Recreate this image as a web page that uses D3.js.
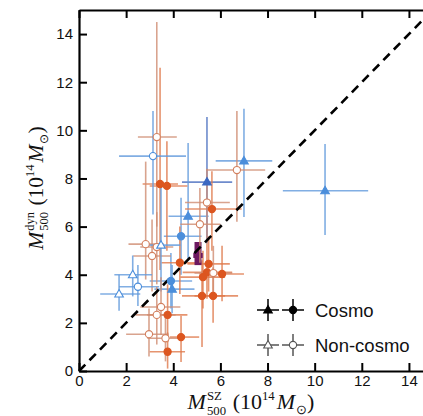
<!DOCTYPE html>
<html>
<head>
<meta charset="utf-8">
<script src="https://cdn.jsdelivr.net/npm/d3@7"></script>
<style>
  html, body { margin: 0; padding: 0; background: #fff; }
  svg { display: block; }
</style>
</head>
<body>
<svg id="chart" width="423" height="416"></svg>
<script>
// SZ mass and dynamical mass (10^14 Msun) with asymmetric error ranges
const massSZ  = [5.43, 7.0, 10.44, 4.63, 4.33, 3.9, 3.95, 3.44, 3.73, 5.64, 4.28, 5.5, 5.43, 6.07, 5.26, 5.22, 5.69, 3.76, 4.33, 3.76, 5.05,
                 3.3, 3.14, 6.7, 5.43, 5.13, 2.83, 3.1, 3.3, 3.48, 1.7, 2.28, 2.5, 3.48, 3.3, 2.97, 3.67, 5.7];
const massDyn = [7.85, 8.73, 7.49, 6.43, 5.6, 3.74, 3.4, 7.77, 7.69, 6.73, 4.5, 4.45, 4.1, 4.03, 3.9, 3.12, 3.12, 2.33, 1.41, 0.8, 4.8,
                 9.72, 8.93, 8.35, 7.0, 6.1, 5.27, 4.78, 5.15, 5.23, 3.2, 4.0, 3.5, 2.66, 2.33, 1.53, 1.36, 4.07];
const szLow   = [4.37, 5.8, 8.65, 3.8, 3.6, 3.0, 3.2, 2.7, 3.0, 4.5, 3.5, 4.6, 4.4, 5.1, 4.3, 4.37, 4.9, 2.9, 3.86, 3.0, 4.85,
                 2.5, 1.7, 5.4, 4.5, 4.3, 2.1, 2.3, 2.6, 2.7, 0.9, 1.5, 1.7, 2.6, 2.4, 2.0, 2.9, 4.9];
const szHigh  = [6.5, 8.2, 12.27, 5.5, 5.2, 4.8, 4.9, 4.2, 4.6, 6.9, 5.2, 6.4, 6.5, 7.0, 6.2, 6.2, 6.75, 4.6, 5.1, 4.5, 5.25,
                 4.15, 4.54, 7.9, 6.4, 6.0, 3.6, 3.9, 4.0, 4.3, 2.6, 3.1, 3.4, 4.3, 4.1, 3.8, 4.4, 6.5];
const dynLow  = [5.3, 6.4, 5.65, 4.6, 4.0, 2.6, 2.4, 4.2, 5.0, 5.0, 3.2, 3.3, 3.0, 2.9, 2.6, 1.0, 2.0, 1.2, 0.37, 0.1, 4.4,
                 6.0, 6.5, 6.2, 5.3, 4.5, 3.8, 3.3, 3.6, 3.3, 2.5, 3.1, 2.7, 1.5, 1.1, 0.6, 0.4, 3.0];
const dynHigh = [10.55, 10.9, 9.43, 9.47, 7.2, 4.9, 4.4, 12.6, 9.55, 8.3, 6.0, 5.6, 5.3, 5.2, 5.0, 4.6, 4.3, 3.6, 2.3, 1.6, 5.36,
                 14.5, 10.8, 10.8, 8.4, 7.6, 8.7, 6.3, 6.6, 7.6, 4.0, 4.8, 4.4, 3.9, 3.5, 2.6, 2.3, 5.2];
// cosmo sample = filled symbols, non-cosmo = open symbols
const sample  = ["c","c","c","c","c","c","c","c","c","c","c","c","c","c","c","c","c","c","c","c","c",
                 "n","n","n","n","n","n","n","n","n","n","n","n","n","n","n","n","n"];
const symbol  = ["tri","tri","tri","tri","circ","circ","tri","circ","circ","circ","circ","circ","circ","circ","circ","circ","circ","circ","circ","circ","bar",
                 "circ","circ","circ","circ","circ","circ","circ","circ","tri","tri","tri","circ","circ","circ","circ","circ","circ"];
const tone    = ["navy","blue","blue","blue","blue","blue","blue","orange","orange","orange","orange","orange","orange","orange","orange","orange","orange","orange","orange","orange","purple",
                 "salmon","blue","salmon","salmon","salmon","salmon","salmon","salmon","blue","blue","blue","blue","salmon","salmon","salmon","salmon","salmon"];

const xTicks = [0, 2, 4, 6, 8, 10, 12, 14];
const yTicks = [0, 2, 4, 6, 8, 10, 12, 14];
const legendLabels = ["Cosmo", "Non-cosmo"];

const palette = {
  navy:   { mark: "#3b68c2", bar: "#4a6fc0" },
  blue:   { mark: "#4b8edb", bar: "#629bdd" },
  orange: { mark: "#dc5620", bar: "#e07a4c" },
  salmon: { mark: "#d3805f", bar: "#d08d72" },
  purple: { mark: "#6c1860", bar: "#6c1860" }
};

const svg = d3.select("#chart");
const x = d3.scaleLinear().domain([0, 15]).range([79, 432.5]);
const y = d3.scaleLinear().domain([0, 15]).range([371, 10]);

const points = massSZ.map((v, i) => ({
  x: v, y: massDyn[i], xl: szLow[i], xh: szHigh[i], yl: dynLow[i], yh: dynHigh[i],
  cosmo: sample[i] === "c", sym: symbol[i], col: palette[tone[i]]
}));

// error bars
const bars = svg.append("g");
points.forEach(p => {
  const w = p.sym === "bar" ? 5 : 1.6;
  const op = p.sym === "bar" ? 1 : 0.8;
  bars.append("line").attr("x1", x(p.xl)).attr("x2", x(p.xh)).attr("y1", y(p.y)).attr("y2", y(p.y))
    .attr("stroke", p.col.bar).attr("stroke-width", w).attr("opacity", op);
  bars.append("line").attr("x1", x(p.x)).attr("x2", x(p.x)).attr("y1", y(p.yl)).attr("y2", y(p.yh))
    .attr("stroke", p.col.bar).attr("stroke-width", p.sym === "bar" ? 7 : w).attr("opacity", op);
});

// one-to-one relation
svg.append("line")
  .attr("x1", x(0)).attr("y1", y(0)).attr("x2", x(15)).attr("y2", y(15))
  .attr("stroke", "#000").attr("stroke-width", 2.6).attr("stroke-dasharray", "9,6");

// symbols
const triangle = d3.symbol().type(d3.symbolTriangle).size(32);
const marks = svg.append("g");
points.filter(p => p.sym !== "bar").forEach(p => {
  const fill = p.cosmo ? p.col.mark : "#fff";
  if (p.sym === "circ") {
    marks.append("circle").attr("cx", x(p.x)).attr("cy", y(p.y)).attr("r", 3.6)
      .attr("fill", fill).attr("stroke", p.col.mark).attr("stroke-width", 1.1);
  } else {
    marks.append("path").attr("d", triangle)
      .attr("transform", `translate(${x(p.x)},${y(p.y) + 0.5})`)
      .attr("fill", fill).attr("stroke", p.col.mark).attr("stroke-width", 1.1);
  }
});

// axes with inward ticks on all four sides
const tickFont = "Liberation Sans, Arial, sans-serif";
function styleAxis(g) {
  g.selectAll(".domain").attr("stroke", "#000").attr("stroke-width", 2.2);
  g.selectAll(".tick line").attr("stroke", "#000").attr("stroke-width", 2);
  g.selectAll("text").attr("font-family", tickFont).attr("font-size", 15).attr("fill", "#111");
}
svg.append("g").attr("transform", `translate(0,${y(0)})`)
  .call(d3.axisBottom(x).tickValues(xTicks).tickSize(-8).tickSizeOuter(0).tickPadding(4))
  .call(styleAxis);
svg.append("g").attr("transform", `translate(${x(0)},0)`)
  .call(d3.axisLeft(y).tickValues(yTicks).tickSize(-8).tickSizeOuter(0).tickPadding(6))
  .call(styleAxis);
svg.append("g").attr("transform", `translate(0,${y(15)})`)
  .call(d3.axisTop(x).tickValues(xTicks).tickSize(-8).tickSizeOuter(0).tickFormat(""))
  .call(styleAxis);
svg.append("g").attr("transform", `translate(${x(15)},0)`)
  .call(d3.axisRight(y).tickValues(yTicks).tickSize(-8).tickSizeOuter(0).tickFormat(""))
  .call(styleAxis);

// math-style axis label: M with stacked sub/superscript, then (10^14 M_sun)
const serif = "Liberation Serif, Times New Roman, serif";
function massLabel(g, sup, fs) {
  const small = fs * 0.58;
  let cx = 0;
  const put = (txt, size, dy, italic) => {
    const t = g.append("text").attr("x", cx).attr("y", dy).attr("font-family", serif)
      .attr("font-size", size).attr("font-style", italic ? "italic" : "normal").attr("fill", "#111").text(txt);
    return t.node().getComputedTextLength();
  };
  cx += put("M", fs, 0, true) + 1;
  const w1 = put(sup, small, -fs * 0.42, false);
  const w2 = put("500", small, fs * 0.25, false);
  cx += Math.max(w1, w2) + fs * 0.3;
  cx += put("(10", fs, 0, false);
  cx += put("14", small, -fs * 0.42, false) + 2;
  cx += put("M", fs, 0, true) + 1;
  cx += put("\u2299", small, fs * 0.22, false);
  cx += put(")", fs, 0, false);
  return cx;
}
const xl = svg.append("g");
const xw = massLabel(xl, "SZ", 22);
xl.attr("transform", `translate(${251 - xw / 2},409)`);
const yl = svg.append("g");
const yw = massLabel(yl, "dyn", 21.5);
yl.attr("transform", `translate(43,${188 + yw / 2}) rotate(-90)`);

// legend
const lg = svg.append("g");
[["c", 310], ["n", 345]].forEach(([s, ly], i) => {
  const ink = s === "c" ? "#000" : "#555";
  [268, 293].forEach((lx, j) => {
    lg.append("line").attr("x1", lx - 11).attr("x2", lx + 11).attr("y1", ly).attr("y2", ly).attr("stroke", ink).attr("stroke-width", 1.5);
    lg.append("line").attr("x1", lx).attr("x2", lx).attr("y1", ly - 11).attr("y2", ly + 11).attr("stroke", ink).attr("stroke-width", 1.5);
    const fill = s === "c" ? "#000" : "#fff";
    if (j === 0) {
      lg.append("path").attr("d", triangle).attr("transform", `translate(${lx},${ly + 0.5})`)
        .attr("fill", fill).attr("stroke", ink).attr("stroke-width", 1.1);
    } else {
      lg.append("circle").attr("cx", lx).attr("cy", ly).attr("r", 3.6)
        .attr("fill", fill).attr("stroke", ink).attr("stroke-width", 1.1);
    }
  });
  lg.append("text").attr("x", 315).attr("y", ly + 6.8).attr("font-family", tickFont)
    .attr("font-size", 18.5).attr("fill", "#111").text(legendLabels[i]);
});
</script>
</body>
</html>
